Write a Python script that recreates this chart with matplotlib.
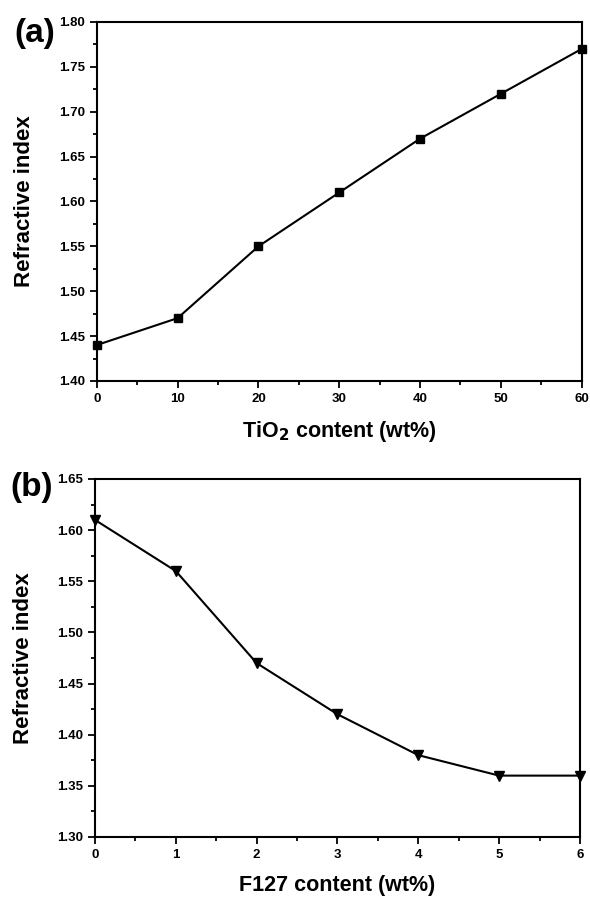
import matplotlib.pyplot as plt
from matplotlib.ticker import MultipleLocator

plt.rcParams['font.family'] = ['Liberation Sans', 'DejaVu Sans']
plt.rcParams['font.weight'] = 'bold'

# (a) índice de refração vs teor de TiO2
tio2_wt = [0, 10, 20, 30, 40, 50, 60]
n_tio2 = [1.44, 1.47, 1.55, 1.61, 1.67, 1.72, 1.77]

# (b) índice de refração vs teor de F127
f127_wt = [0, 1, 2, 3, 4, 5, 6]
n_f127 = [1.61, 1.56, 1.47, 1.42, 1.38, 1.36, 1.36]

fig = plt.figure(figsize=(5.9, 8.97), dpi=100)
ax1 = fig.add_axes([0.164, 0.5753, 0.822, 0.4002])
ax2 = fig.add_axes([0.161, 0.0669, 0.822, 0.3991])


def style(ax):
    for s in ax.spines.values():
        s.set_linewidth(1.5)
    ax.tick_params(which='both', direction='out', top=False, right=False,
                   width=1.3, labelsize=9.5)
    ax.tick_params(which='major', length=5)
    ax.tick_params(which='minor', length=3)
    for lab in ax.get_xticklabels() + ax.get_yticklabels():
        lab.set_fontweight('bold')


ax1.plot(tio2_wt, n_tio2, 'k-s', linewidth=1.5, markersize=6, clip_on=False)
ax1.set_xlim(0, 60)
ax1.set_ylim(1.40, 1.80)
ax1.xaxis.set_major_locator(MultipleLocator(10))
ax1.xaxis.set_minor_locator(MultipleLocator(5))
ax1.yaxis.set_major_locator(MultipleLocator(0.05))
ax1.yaxis.set_minor_locator(MultipleLocator(0.025))
ax1.yaxis.set_major_formatter('{x:.2f}')
ax1.set_xlabel('TiO$_\\mathbf{2}$ content (wt%)', fontsize=15.5, fontweight='bold', labelpad=10)
ax1.set_ylabel('Refractive index', fontsize=16, fontweight='bold', labelpad=17)
style(ax1)

ax2.plot(f127_wt, n_f127, 'k-v', linewidth=1.5, markersize=7, clip_on=False)
ax2.set_xlim(0, 6)
ax2.set_ylim(1.30, 1.65)
ax2.xaxis.set_major_locator(MultipleLocator(1))
ax2.xaxis.set_minor_locator(MultipleLocator(0.5))
ax2.yaxis.set_major_locator(MultipleLocator(0.05))
ax2.yaxis.set_minor_locator(MultipleLocator(0.025))
ax2.yaxis.set_major_formatter('{x:.2f}')
ax2.set_xlabel('F127 content (wt%)', fontsize=15.5, fontweight='bold', labelpad=10)
ax2.set_ylabel('Refractive index', fontsize=16, fontweight='bold', labelpad=17)
style(ax2)

fig.text(0.024, 0.963, '(a)', fontsize=24, fontweight='bold', va='center')
fig.text(0.017, 0.457, '(b)', fontsize=24, fontweight='bold', va='center')

fig.savefig('out.png', dpi=100)
